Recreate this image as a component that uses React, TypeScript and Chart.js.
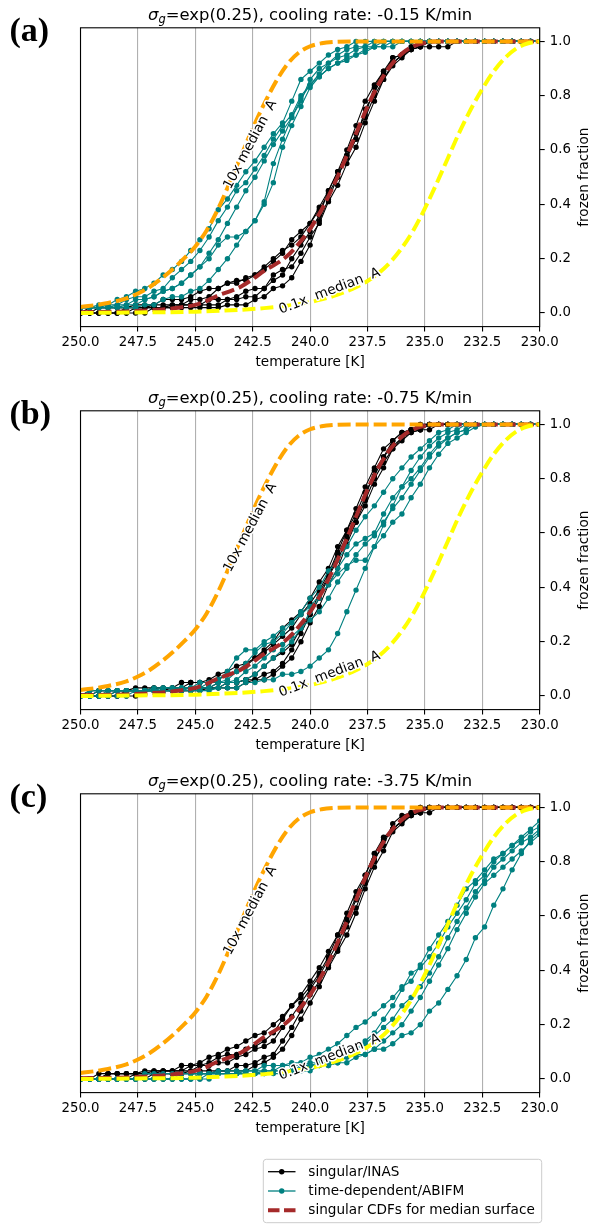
import React, { useEffect, useRef } from 'react';
import { Chart, registerables } from 'chart.js';

Chart.register(...registerables);

// ---------- axes ----------
const X_TICKS = [250, 247.5, 245, 242.5, 240, 237.5, 235, 232.5, 230];
const Y_TICKS = [0, 0.2, 0.4, 0.6, 0.8, 1.0];

// ---------- common temperature grid of the realizations [K] ----------
const TEMPS = [250, 249.6, 249.2, 248.8, 248.4, 248, 247.6, 247.2, 246.8, 246.4, 246, 245.6, 245.2, 244.8, 244.4, 244, 243.6, 243.2, 242.8, 242.4, 242, 241.6, 241.2, 240.8, 240.4, 240, 239.6, 239.2, 238.8, 238.4, 238, 237.6, 237.2, 236.8, 236.4, 236, 235.6, 235.2, 234.8, 234.4, 234, 233.6, 233.2, 232.8, 232.4, 232, 231.6, 231.2, 230.8, 230.4, 230];

// ---------- singular CDFs (dashed curves) ----------
const CDF10_T = [250, 249, 248, 247.5, 247, 246.5, 246, 245.5, 245, 244.5, 244, 243.5, 243, 242.5, 242, 241.5, 241, 240.5, 240, 239.5, 239, 238, 230];
const CDF10_F = [0.022, 0.034, 0.054, 0.072, 0.095, 0.125, 0.16, 0.2, 0.245, 0.305, 0.385, 0.48, 0.58, 0.68, 0.77, 0.85, 0.915, 0.958, 0.982, 0.993, 0.998, 1.0, 1.0];

const CDF01_T = [250, 247.5, 245, 243, 242, 241, 240, 239.5, 239, 238.5, 238, 237.5, 237, 236.5, 236, 235.5, 235, 234.5, 234, 233.5, 233, 232.5, 232, 231.5, 231, 230.5, 230];
const CDF01_F = [0.0, 0.002, 0.005, 0.012, 0.018, 0.027, 0.04, 0.05, 0.062, 0.077, 0.095, 0.118, 0.148, 0.188, 0.24, 0.305, 0.385, 0.475, 0.57, 0.665, 0.75, 0.825, 0.89, 0.94, 0.975, 0.993, 1.0];

const CDFMED_T = [250, 248, 247, 246, 245, 244.5, 244, 243.5, 243, 242.5, 242, 241.5, 241, 240.5, 240, 239.5, 239, 238.5, 238, 237.5, 237, 236.5, 236, 235.5, 235, 234.5, 230];
const CDFMED_F = [0.003, 0.006, 0.01, 0.017, 0.03, 0.045, 0.065, 0.08, 0.098, 0.125, 0.155, 0.18, 0.21, 0.255, 0.31, 0.38, 0.465, 0.56, 0.66, 0.76, 0.845, 0.91, 0.955, 0.982, 0.995, 1.0, 1.0];

// ---------- panel (a): cooling rate -0.15 K/min ----------
const A_INAS_1 = [0, 0, .02, .02, .02, .02, .03, .03, .03, .05, .05, .05, .06, .08, .09, .09, .11, .11, .13, .14, .17, .20, .23, .25, .28, .33, .38, .44, .50, .58, .66, .73, .83, .89, .92, .95, .97, .98, .98, .98, .98, 1, 1, 1, 1, 1, 1, 1, 1, 1, 1];
const A_INAS_2 = [0, 0, 0, 0, 0, 0, 0, 0, .02, .02, .02, .02, .02, .02, .02, .02, .03, .03, .03, .05, .06, .09, .10, .13, .19, .25, .34, .42, .50, .58, .64, .72, .80, .86, .92, .95, .98, 1, 1, 1, 1, 1, 1, 1, 1, 1, 1, 1, 1, 1, 1];
const A_INAS_3 = [0, 0, 0, 0, 0, .02, .02, .02, .02, .02, .03, .03, .03, .03, .05, .05, .05, .06, .08, .09, .09, .14, .16, .17, .22, .28, .33, .41, .47, .55, .61, .70, .78, .86, .91, .94, .97, .98, 1, 1, 1, 1, 1, 1, 1, 1, 1, 1, 1, 1, 1];
const A_INAS_4 = [0, .02, .02, .02, .02, .02, .02, .02, .03, .03, .03, .03, .05, .05, .06, .09, .11, .12, .12, .14, .16, .19, .22, .27, .30, .33, .39, .45, .52, .60, .69, .78, .84, .89, .94, .95, .97, .98, 1, 1, 1, 1, 1, 1, 1, 1, 1, 1, 1, 1, 1];
const A_INAS_5 = [0, 0, 0, 0, 0, 0, .02, .02, .02, .02, .02, .03, .03, .03, .03, .03, .05, .05, .06, .06, .09, .12, .14, .20, .25, .30, .36, .45, .52, .57, .64, .75, .81, .88, .94, .95, .97, 1, 1, 1, 1, 1, 1, 1, 1, 1, 1, 1, 1, 1, 1];

const A_ABIFM_1 = [.02, .02, .03, .03, .05, .06, .08, .09, .11, .14, .16, .19, .23, .27, .31, .38, .42, .47, .52, .56, .61, .66, .70, .78, .86, .89, .92, .95, .97, .98, 1, 1, 1, 1, 1, 1, 1, 1, 1, 1, 1, 1, 1, 1, 1, 1, 1, 1, 1, 1, 1];
const A_ABIFM_2 = [.02, .02, .02, .03, .03, .05, .06, .06, .08, .09, .13, .16, .19, .23, .28, .34, .39, .45, .48, .53, .58, .64, .69, .73, .80, .84, .88, .92, .95, .97, .98, .98, 1, 1, 1, 1, 1, 1, 1, 1, 1, 1, 1, 1, 1, 1, 1, 1, 1, 1, 1];
const A_ABIFM_3 = [.02, .02, .02, .02, .03, .03, .05, .05, .06, .08, .09, .11, .14, .17, .22, .27, .33, .39, .45, .50, .56, .62, .67, .72, .78, .86, .90, .92, .94, .95, .97, .98, .98, 1, 1, 1, 1, 1, 1, 1, 1, 1, 1, 1, 1, 1, 1, 1, 1, 1, 1];
const A_ABIFM_4 = [.02, .02, .02, .02, .02, .03, .03, .05, .06, .08, .09, .11, .14, .17, .20, .25, .28, .28, .30, .34, .41, .55, .64, .72, .79, .84, .87, .90, .92, .94, .95, .97, .98, .98, 1, 1, 1, 1, 1, 1, 1, 1, 1, 1, 1, 1, 1, 1, 1, 1, 1];
const A_ABIFM_5 = [.02, .02, .02, .02, .02, .02, .02, .03, .03, .05, .06, .06, .08, .09, .12, .16, .20, .25, .30, .34, .40, .48, .61, .69, .76, .83, .87, .90, .92, .93, .95, .96, .98, .98, .98, 1, 1, 1, 1, 1, 1, 1, 1, 1, 1, 1, 1, 1, 1, 1, 1];

// ---------- panel (b): cooling rate -0.75 K/min ----------
const B_INAS_1 = [0, 0, .02, .02, .02, .02, .02, .02, .03, .03, .03, .03, .05, .05, .05, .06, .08, .09, .11, .14, .16, .19, .22, .25, .30, .34, .39, .45, .53, .61, .67, .75, .81, .88, .92, .95, .98, .98, 1, 1, 1, 1, 1, 1, 1, 1, 1, 1, 1, 1, 1];
const B_INAS_2 = [0, 0, 0, 0, 0, .02, .02, .02, .02, .02, .02, .02, .02, .03, .03, .03, .05, .05, .06, .06, .08, .09, .12, .17, .23, .30, .36, .44, .52, .59, .66, .73, .83, .88, .94, .97, .98, 1, 1, 1, 1, 1, 1, 1, 1, 1, 1, 1, 1, 1, 1];
const B_INAS_3 = [0, 0, 0, 0, 0, 0, 0, .02, .02, .02, .02, .02, .02, .02, .03, .03, .03, .03, .05, .06, .06, .08, .11, .14, .20, .27, .33, .41, .47, .56, .64, .70, .78, .84, .91, .95, .97, .98, .98, 1, 1, 1, 1, 1, 1, 1, 1, 1, 1, 1, 1];
const B_INAS_4 = [0, .02, .02, .02, .02, .02, .03, .03, .03, .03, .03, .05, .05, .05, .06, .08, .09, .11, .12, .14, .17, .20, .25, .28, .31, .36, .42, .47, .55, .61, .69, .77, .84, .91, .94, .97, .98, 1, 1, 1, 1, 1, 1, 1, 1, 1, 1, 1, 1, 1, 1];
const B_INAS_5 = [0, 0, 0, 0, .02, .02, .02, .02, .02, .02, .03, .03, .03, .03, .03, .05, .05, .05, .06, .08, .11, .14, .16, .19, .25, .30, .38, .44, .50, .58, .64, .72, .80, .86, .91, .94, .97, .98, 1, 1, 1, 1, 1, 1, 1, 1, 1, 1, 1, 1, 1];

const B_ABIFM_1 = [0, .02, .02, .02, .02, .02, .02, .02, .03, .03, .03, .03, .03, .05, .05, .06, .09, .14, .17, .17, .20, .22, .25, .27, .31, .36, .40, .46, .50, .55, .61, .66, .70, .75, .80, .84, .88, .91, .94, .97, .98, 1, 1, 1, 1, 1, 1, 1, 1, 1, 1];
const B_ABIFM_2 = [0, 0, .02, .02, .02, .02, .02, .02, .02, .03, .03, .03, .03, .03, .05, .05, .06, .09, .12, .16, .19, .20, .23, .27, .30, .33, .37, .41, .47, .52, .56, .58, .60, .67, .73, .77, .80, .84, .89, .93, .95, .97, .98, 1, 1, 1, 1, 1, 1, 1, 1];
const B_ABIFM_3 = [0, 0, 0, .02, .02, .02, .02, .02, .02, .02, .02, .03, .03, .03, .03, .05, .05, .06, .09, .11, .14, .17, .19, .22, .25, .28, .31, .36, .42, .47, .52, .56, .59, .64, .69, .73, .78, .83, .88, .92, .95, .97, .98, 1, 1, 1, 1, 1, 1, 1, 1];
const B_ABIFM_4 = [0, 0, 0, 0, .02, .02, .02, .02, .02, .02, .02, .02, .03, .03, .03, .03, .05, .05, .06, .08, .11, .14, .17, .20, .25, .31, .36, .41, .45, .48, .50, .50, .55, .63, .70, .77, .83, .88, .92, .95, .97, .98, 1, 1, 1, 1, 1, 1, 1, 1, 1];
const B_ABIFM_5 = [0, 0, 0, 0, 0, 0, .02, .02, .02, .02, .02, .02, .02, .02, .02, .03, .03, .03, .05, .05, .06, .06, .08, .08, .09, .11, .14, .17, .23, .31, .39, .47, .55, .59, .64, .67, .73, .78, .84, .89, .93, .95, .97, .99, 1, 1, 1, 1, 1, 1, 1];

// ---------- panel (c): cooling rate -3.75 K/min ----------
const C_INAS_1 = [0, 0, 0, .02, .02, .02, .02, .03, .03, .03, .03, .03, .05, .05, .06, .08, .09, .09, .11, .12, .14, .17, .22, .27, .31, .36, .41, .47, .53, .61, .69, .75, .83, .89, .92, .95, .97, .98, 1, 1, 1, 1, 1, 1, 1, 1, 1, 1, 1, 1, 1];
const C_INAS_2 = [0, 0, 0, 0, 0, 0, .02, .02, .02, .02, .02, .02, .03, .03, .03, .03, .03, .05, .05, .06, .08, .09, .14, .19, .25, .31, .36, .42, .48, .56, .63, .72, .80, .88, .92, .95, .98, .98, 1, 1, 1, 1, 1, 1, 1, 1, 1, 1, 1, 1, 1];
const C_INAS_3 = [0, 0, .02, .02, .02, .02, .02, .02, .02, .03, .03, .05, .05, .06, .08, .09, .11, .12, .14, .16, .17, .20, .23, .27, .30, .34, .39, .45, .53, .59, .67, .75, .83, .88, .92, .95, .97, 1, 1, 1, 1, 1, 1, 1, 1, 1, 1, 1, 1, 1, 1];
const C_INAS_4 = [0, 0, 0, 0, 0, 0, 0, 0, .02, .02, .02, .02, .02, .02, .02, .03, .03, .03, .03, .05, .06, .08, .11, .16, .22, .28, .34, .41, .47, .53, .61, .70, .78, .84, .91, .94, .97, .98, .98, 1, 1, 1, 1, 1, 1, 1, 1, 1, 1, 1, 1];
const C_INAS_5 = [0, 0, 0, .02, .02, .02, .02, .02, .03, .03, .03, .03, .03, .05, .05, .06, .06, .08, .09, .11, .12, .14, .19, .23, .28, .33, .38, .44, .50, .58, .66, .73, .81, .86, .94, .97, .98, 1, 1, 1, 1, 1, 1, 1, 1, 1, 1, 1, 1, 1, 1];

const C_ABIFM_1 = [0, 0, 0, 0, 0, 0, 0, .02, .02, .02, .02, .02, .02, .02, .02, .03, .03, .03, .03, .03, .05, .05, .05, .06, .06, .08, .09, .11, .13, .16, .19, .21, .24, .27, .30, .34, .36, .42, .48, .53, .58, .64, .70, .73, .77, .81, .83, .86, .89, .92, .95];
const C_ABIFM_2 = [0, 0, 0, 0, 0, 0, 0, 0, 0, 0, 0, .02, .02, .02, .02, .02, .02, .02, .03, .03, .03, .03, .05, .05, .05, .06, .06, .08, .08, .09, .11, .14, .17, .22, .27, .33, .39, .41, .45, .50, .56, .61, .66, .72, .75, .80, .83, .86, .88, .91, .93];
const C_ABIFM_3 = [0, 0, 0, 0, 0, 0, 0, 0, 0, 0, 0, 0, 0, .02, .02, .02, .02, .02, .02, .02, .03, .03, .03, .03, .05, .05, .06, .06, .08, .09, .11, .13, .16, .19, .22, .27, .30, .34, .39, .45, .52, .58, .63, .69, .73, .78, .81, .84, .87, .89, .92];
const C_ABIFM_4 = [0, 0, 0, 0, 0, 0, 0, 0, 0, 0, 0, 0, 0, 0, .02, .02, .02, .02, .02, .02, .02, .03, .03, .03, .03, .05, .05, .05, .06, .08, .09, .09, .11, .14, .17, .20, .25, .30, .36, .42, .48, .55, .61, .67, .72, .75, .78, .81, .84, .87, .90];
const C_ABIFM_5 = [0, 0, 0, 0, 0, 0, 0, 0, 0, 0, 0, 0, 0, 0, 0, .02, .02, .02, .02, .02, .02, .02, .02, .03, .03, .03, .05, .05, .06, .06, .08, .09, .11, .11, .13, .16, .17, .20, .25, .28, .33, .38, .44, .52, .56, .64, .70, .77, .83, .88, .91];

// ---------- inline curve labels (data coordinates) ----------
const LABEL_10X = { text: '10x median  A', t: 242.6, f: 0.62, angle: -62 };
const LABEL_01X = { text: '0.1x  median  A', t: 239.15, f: 0.08, angle: -21 };

const PANELS = [
  { tag: '(a)', rate: '-0.15', inas: [A_INAS_1, A_INAS_2, A_INAS_3, A_INAS_4, A_INAS_5], abifm: [A_ABIFM_1, A_ABIFM_2, A_ABIFM_3, A_ABIFM_4, A_ABIFM_5] },
  { tag: '(b)', rate: '-0.75', inas: [B_INAS_1, B_INAS_2, B_INAS_3, B_INAS_4, B_INAS_5], abifm: [B_ABIFM_1, B_ABIFM_2, B_ABIFM_3, B_ABIFM_4, B_ABIFM_5] },
  { tag: '(c)', rate: '-3.75', inas: [C_INAS_1, C_INAS_2, C_INAS_3, C_INAS_4, C_INAS_5], abifm: [C_ABIFM_1, C_ABIFM_2, C_ABIFM_3, C_ABIFM_4, C_ABIFM_5] },
];

const LEGEND_LABELS = ['singular/INAS', 'time-dependent/ABIFM', 'singular CDFs for median surface'];

const COLORS = { inas: '#000000', abifm: '#008080', median: '#a52a2a', x10: '#ffa500', x01: '#ffff00' };
const SANS = '"DejaVu Sans", sans-serif';

// layout (pixels inside each panel canvas)
const AREA_LEFT = 80.5;
const AREA_TOP = 27.8;
const AREA_RIGHT = 539.7;
const AREA_BOTTOM = 326.6;
const W = 590;

function curveDataset(ts: number[], fs: number[], color: string) {
  return {
    data: ts.map((t, i) => ({ x: t, y: fs[i] })),
    borderColor: color,
    backgroundColor: color,
    borderWidth: 4,
    borderDash: [13, 5],
    borderCapStyle: 'butt',
    pointRadius: 0,
    pointHoverRadius: 0,
    cubicInterpolationMode: 'monotone',
    fill: false,
  };
}

function runDataset(vals: number[], color: string) {
  return {
    data: TEMPS.map((t, i) => ({ x: t, y: vals[i] })),
    borderColor: color,
    backgroundColor: color,
    borderWidth: 1.1,
    pointRadius: 2.7,
    pointHoverRadius: 2.7,
    pointBorderWidth: 0,
    pointBackgroundColor: color,
    tension: 0,
    fill: false,
  };
}

function drawInline(ctx: CanvasRenderingContext2D, x: number, y: number, angle: number, text: string) {
  ctx.save();
  ctx.translate(x, y);
  ctx.rotate((angle * Math.PI) / 180);
  ctx.font = `13.6px ${SANS}`;
  ctx.textAlign = 'center';
  ctx.textBaseline = 'middle';
  ctx.lineJoin = 'round';
  ctx.strokeStyle = '#ffffff';
  ctx.lineWidth = 3;
  ctx.strokeText(text, 0, 0);
  ctx.fillStyle = '#000000';
  ctx.fillText(text, 0, 0);
  ctx.restore();
}

function makeDecor(idx: number, withLegend: boolean) {
  const cfg = PANELS[idx];
  return {
    id: 'decor' + idx,
    afterDatasetsDraw(chart: any) {
      const { ctx, chartArea: a, scales } = chart;
      const xs = scales.x;
      const ys = scales.y;
      drawInline(ctx, xs.getPixelForValue(LABEL_10X.t), ys.getPixelForValue(LABEL_10X.f), LABEL_10X.angle, LABEL_10X.text);
      drawInline(ctx, xs.getPixelForValue(LABEL_01X.t), ys.getPixelForValue(LABEL_01X.f), LABEL_01X.angle, LABEL_01X.text);
      ctx.save();
      ctx.strokeStyle = '#000';
      ctx.lineWidth = 1.1;
      ctx.strokeRect(a.left, a.top, a.right - a.left, a.bottom - a.top);
      ctx.restore();
    },
    afterDraw(chart: any) {
      const { ctx, chartArea: a } = chart;
      const cx = (a.left + a.right) / 2;
      const cy = (a.top + a.bottom) / 2;
      ctx.save();
      ctx.fillStyle = '#000';
      ctx.textAlign = 'left';
      ctx.textBaseline = 'alphabetic';
      // title with mathtext sigma_g
      const big = 16.4;
      const rest = `=exp(0.25), cooling rate: ${cfg.rate} K/min`;
      ctx.font = `italic ${big}px ${SANS}`;
      const wS = ctx.measureText('σ').width;
      ctx.font = `italic ${big * 0.7}px ${SANS}`;
      const wG = ctx.measureText('g').width;
      ctx.font = `${big}px ${SANS}`;
      const wR = ctx.measureText(rest).width;
      let x = cx - (wS + wG + wR) / 2;
      const by = 20;
      ctx.font = `italic ${big}px ${SANS}`;
      ctx.fillText('σ', x, by);
      x += wS;
      ctx.font = `italic ${big * 0.7}px ${SANS}`;
      ctx.fillText('g', x, by + 3.2);
      x += wG;
      ctx.font = `${big}px ${SANS}`;
      ctx.fillText(rest, x, by);
      // x label
      ctx.font = `13.6px ${SANS}`;
      ctx.textAlign = 'center';
      ctx.fillText('temperature [K]', cx, 366.3);
      // y label (right side, reading upwards)
      ctx.save();
      ctx.translate(584.5, cy);
      ctx.rotate(-Math.PI / 2);
      ctx.textBaseline = 'middle';
      ctx.fillText('frozen fraction', 0, 0);
      ctx.restore();
      // panel tag
      ctx.font = `bold 34px "Liberation Serif", serif`;
      ctx.textAlign = 'left';
      ctx.textBaseline = 'alphabetic';
      ctx.fillText(cfg.tag, 9.5, 40.5);
      ctx.restore();

      if (withLegend) {
        const bx = 263.3, byy = 393.3, bw = 278.4, bh = 63.4;
        ctx.save();
        ctx.beginPath();
        (ctx as any).roundRect(bx, byy, bw, bh, 3);
        ctx.fillStyle = 'rgba(255,255,255,0.8)';
        ctx.fill();
        ctx.strokeStyle = '#cccccc';
        ctx.lineWidth = 1;
        ctx.stroke();
        const rows = [405.7, 425, 444.3];
        const cols = [COLORS.inas, COLORS.abifm];
        for (let r = 0; r < 2; r++) {
          ctx.strokeStyle = cols[r];
          ctx.lineWidth = 1.3;
          ctx.beginPath();
          ctx.moveTo(268, rows[r]);
          ctx.lineTo(295.5, rows[r]);
          ctx.stroke();
          ctx.fillStyle = cols[r];
          ctx.beginPath();
          ctx.arc(281.7, rows[r], 2.7, 0, Math.PI * 2);
          ctx.fill();
        }
        ctx.strokeStyle = COLORS.median;
        ctx.lineWidth = 4;
        ctx.setLineDash([11.5, 4.5]);
        ctx.beginPath();
        ctx.moveTo(268, rows[2]);
        ctx.lineTo(295.5, rows[2]);
        ctx.stroke();
        ctx.setLineDash([]);
        ctx.fillStyle = '#000';
        ctx.font = `13.6px ${SANS}`;
        ctx.textAlign = 'left';
        ctx.textBaseline = 'middle';
        LEGEND_LABELS.forEach((s, i) => ctx.fillText(s, 308.3, rows[i] + 0.5));
        ctx.restore();
      }
    },
  };
}

function Panel({ idx, top, height, legend }: { idx: number; top: number; height: number; legend?: boolean }) {
  const ref = useRef<HTMLCanvasElement | null>(null);
  useEffect(() => {
    const cfg = PANELS[idx];
    const datasets: any[] = [];
    // first in array is drawn on top
    datasets.push(curveDataset(CDF01_T, CDF01_F, COLORS.x01));
    datasets.push(curveDataset(CDF10_T, CDF10_F, COLORS.x10));
    datasets.push(curveDataset(CDFMED_T, CDFMED_F, COLORS.median));
    cfg.abifm.forEach((v) => datasets.push(runDataset(v, COLORS.abifm)));
    cfg.inas.forEach((v) => datasets.push(runDataset(v, COLORS.inas)));

    const tickFont = { family: SANS, size: 13.3 };
    const chart = new Chart(ref.current as HTMLCanvasElement, {
      type: 'line',
      data: { datasets },
      options: {
        animation: false,
        responsive: false,
        devicePixelRatio: 1,
        events: [],
        layout: { padding: { left: AREA_LEFT, top: AREA_TOP, right: 0, bottom: 0 } },
        plugins: { legend: { display: false }, tooltip: { enabled: false }, title: { display: false } },
        scales: {
          x: {
            type: 'linear',
            reverse: true,
            min: 230,
            max: 250,
            afterBuildTicks: (s: any) => {
              s.ticks = X_TICKS.map((v) => ({ value: v }));
            },
            afterFit: (s: any) => {
              s.height = height - AREA_BOTTOM;
            },
            ticks: {
              autoSkip: false,
              maxRotation: 0,
              minRotation: 0,
              color: '#000',
              font: tickFont,
              padding: 3,
              callback: (v: any) => Number(v).toFixed(1),
            },
            grid: { color: '#b0b0b0', lineWidth: 1.1, tickColor: '#000', tickLength: 5, drawOnChartArea: true, drawTicks: true },
            border: { display: false },
          },
          y: {
            type: 'linear',
            position: 'right',
            min: -0.05,
            max: 1.05,
            afterBuildTicks: (s: any) => {
              s.ticks = Y_TICKS.map((v) => ({ value: v }));
            },
            afterFit: (s: any) => {
              s.width = W - AREA_RIGHT;
            },
            ticks: {
              color: '#000',
              font: tickFont,
              padding: 5,
              callback: (v: any) => Number(v).toFixed(1),
            },
            grid: { drawOnChartArea: false, drawTicks: true, tickColor: '#000', tickLength: 5, lineWidth: 1.1 },
            border: { display: false },
          },
        },
      } as any,
      plugins: [makeDecor(idx, !!legend)],
    });
    return () => chart.destroy();
  }, [idx, height, legend]);
  return (
    <canvas
      ref={ref}
      width={W}
      height={height}
      style={{ position: 'absolute', left: 0, top, width: W, height, display: 'block' }}
    />
  );
}

export default function App() {
  return (
    <div style={{ position: 'absolute', left: 0, top: 0, width: 590, height: 1224, background: '#ffffff' }}>
      <Panel idx={0} top={0} height={383} />
      <Panel idx={1} top={383} height={383} />
      <Panel idx={2} top={766} height={458} legend />
    </div>
  );
}
